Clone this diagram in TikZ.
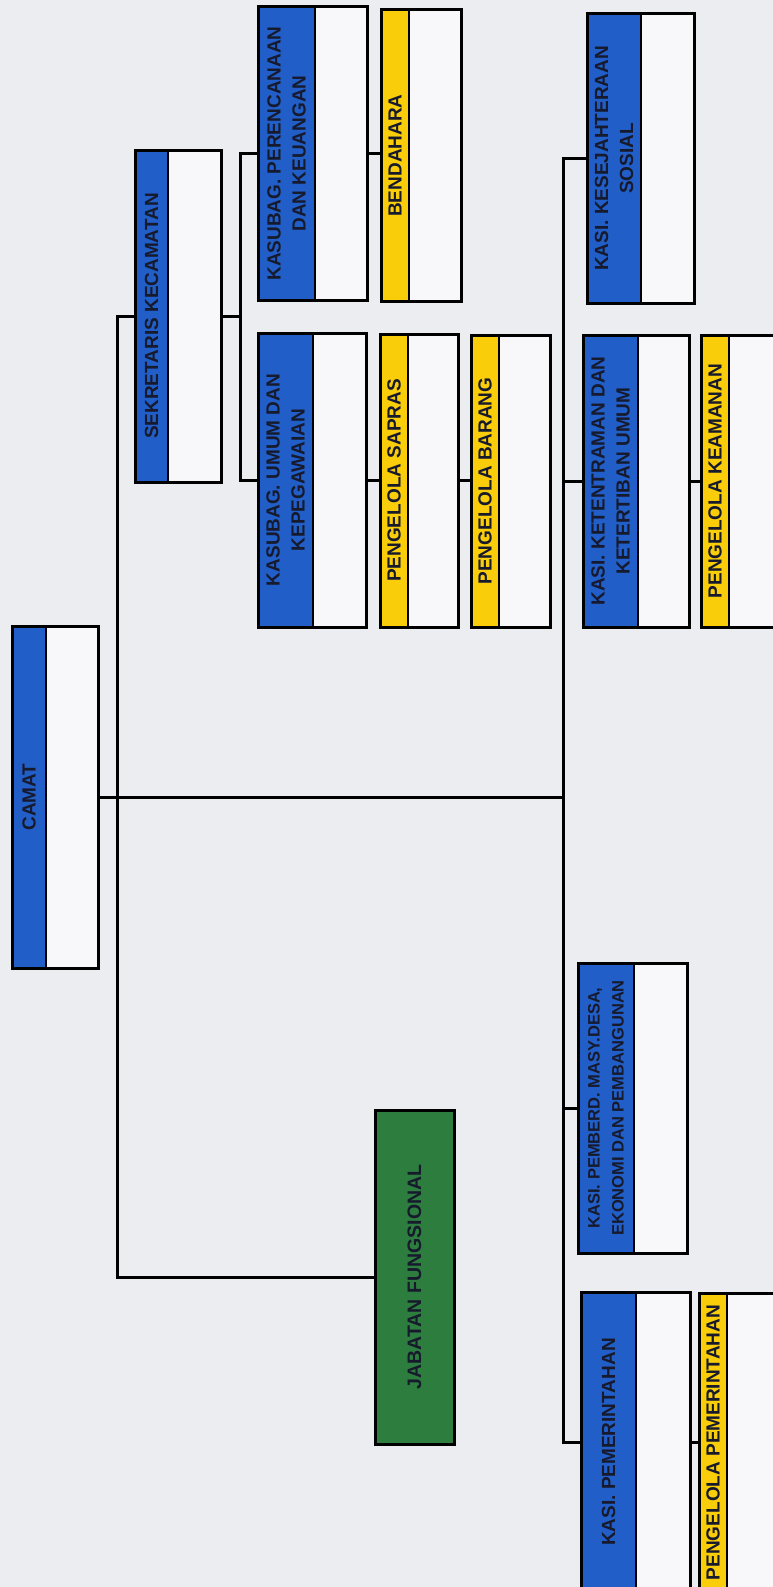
\documentclass[tikz,border=0pt]{standalone}
\usepackage{fontspec}
\setmainfont{Liberation Sans}
\usepackage{tikz}

\definecolor{kecbg}{RGB}{236,237,241}
\definecolor{kecwhite}{RGB}{248,248,250}
\definecolor{kecblue}{RGB}{33,94,200}
\definecolor{kecyellow}{RGB}{250,205,10}
\definecolor{kecgreen}{RGB}{45,125,62}
\definecolor{kecink}{RGB}{22,26,44}

\tikzset{
  unitbox/.style={rectangle, inner sep=0pt, outer sep=0pt, fill=kecwhite},
  unitline/.style={line width=3pt},
  komando/.style={line width=3pt},
  unittext/.style={rotate=90, align=center, text=kecink, inner sep=0pt,
    font={\bfseries\fontsize{19}{25}\selectfont}},
}

% one unit: [text opts]{name}{x}{y}{width}{height}{strip}{colour}{label}
\newcommand{\orgunit}[9][]{%
  \node[unitbox, minimum width=#5pt, minimum height=#6pt] (#2) at ({#3+#5/2},{#4+#6/2}) {};
  \fill[#8] (#2.north west) rectangle ([xshift=#7pt]#2.south west);
  \draw[line width=1.2pt] ([xshift=#7pt]#2.north west) -- ([xshift=#7pt]#2.south west);
  \draw[unitline] (#2.north west) rectangle (#2.south east);
  \node[unittext, #1] (#2-t) at ([xshift=#7pt/2]#2.west) {#9};
}

\begin{document}
\begin{tikzpicture}[x=1pt,y=-1pt]
  \fill[kecbg] (0,0) rectangle (773,1587);
  \useasboundingbox (0,0) rectangle (773,1587);

  % pimpinan
  \orgunit{camat}{12}{626}{86}{342}{34}{kecblue}{CAMAT}
  \orgunit{sekcam}{135}{150}{86}{332}{33}{kecblue}{SEKRETARIS KECAMATAN}
  \orgunit[font={\bfseries\fontsize{19.5}{25}\selectfont}]{jabfung}{375}{1110}{79}{334}{79}{kecgreen}{JABATAN FUNGSIONAL}

  % sekretariat
  \orgunit{kasubagren}{258}{7}{109}{293}{57}{kecblue}{KASUBAG. PERENCANAAN\\DAN KEUANGAN}
  \orgunit{bendahara}{381}{10}{80}{291}{28}{kecyellow}{BENDAHARA}
  \orgunit{kasubagum}{258}{333}{108}{294}{55}{kecblue}{KASUBAG. UMUM DAN\\KEPEGAWAIAN}
  \orgunit{sapras}{380}{334}{78}{293}{28}{kecyellow}{PENGELOLA SAPRAS}
  \orgunit{barang}{471}{335}{79}{292}{28}{kecyellow}{PENGELOLA BARANG}

  % seksi
  \orgunit{kesos}{587}{14}{107}{289}{54}{kecblue}{KASI. KESEJAHTERAAN\\SOSIAL}
  \orgunit{trantib}{583}{335}{106}{292}{55}{kecblue}{KASI. KETENTRAMAN DAN\\KETERTIBAN UMUM}
  \orgunit{keamanan}{701}{335}{80}{292}{28}{kecyellow}{PENGELOLA KEAMANAN}
  \orgunit[font={\bfseries\fontsize{16.5}{24}\selectfont}]{pmd}{578}{963}{109}{290}{56}{kecblue}{KASI. PEMBERD. MASY.DESA,\\EKONOMI DAN PEMBANGUNAN}
  \orgunit{pemerintahan}{581}{1292}{109}{300}{55}{kecblue}{KASI. PEMERINTAHAN}
  \orgunit{pengpem}{699}{1293}{82}{299}{28}{kecyellow}{PENGELOLA PEMERINTAHAN}

  \coordinate (ltrunk) at (117,0);
  \coordinate (sektrunk) at (240,0);
  \coordinate (rtrunk) at (563,0);

  % garis komando
  \begin{scope}[line width=3pt]
  \draw (sekcam.west) -| (ltrunk |- jabfung.west) -- (jabfung.west);
  \draw (camat.east) -- (camat.east -| rtrunk);
  \draw (kesos.west) -| (rtrunk |- pemerintahan.west) -- (pemerintahan.west);
  \draw (trantib.west) -- (trantib.west -| rtrunk);
  \draw (pmd.west) -- (pmd.west -| rtrunk);
  \draw (trantib.east) -- (trantib.east -| keamanan.west);
  \draw (pemerintahan.east) -- (pemerintahan.east -| pengpem.west);

  \draw (sekcam.east) -- (sekcam.east -| sektrunk);
  \draw (kasubagren.west) -| (sektrunk |- kasubagum.west) -- (kasubagum.west);
  \draw (kasubagren.east) -- (kasubagren.east -| bendahara.west);
  \draw (kasubagum.east) -- (kasubagum.east -| sapras.west);
  \draw (sapras.east) -- (sapras.east -| barang.west);
  \end{scope}
\end{tikzpicture}
\end{document}
